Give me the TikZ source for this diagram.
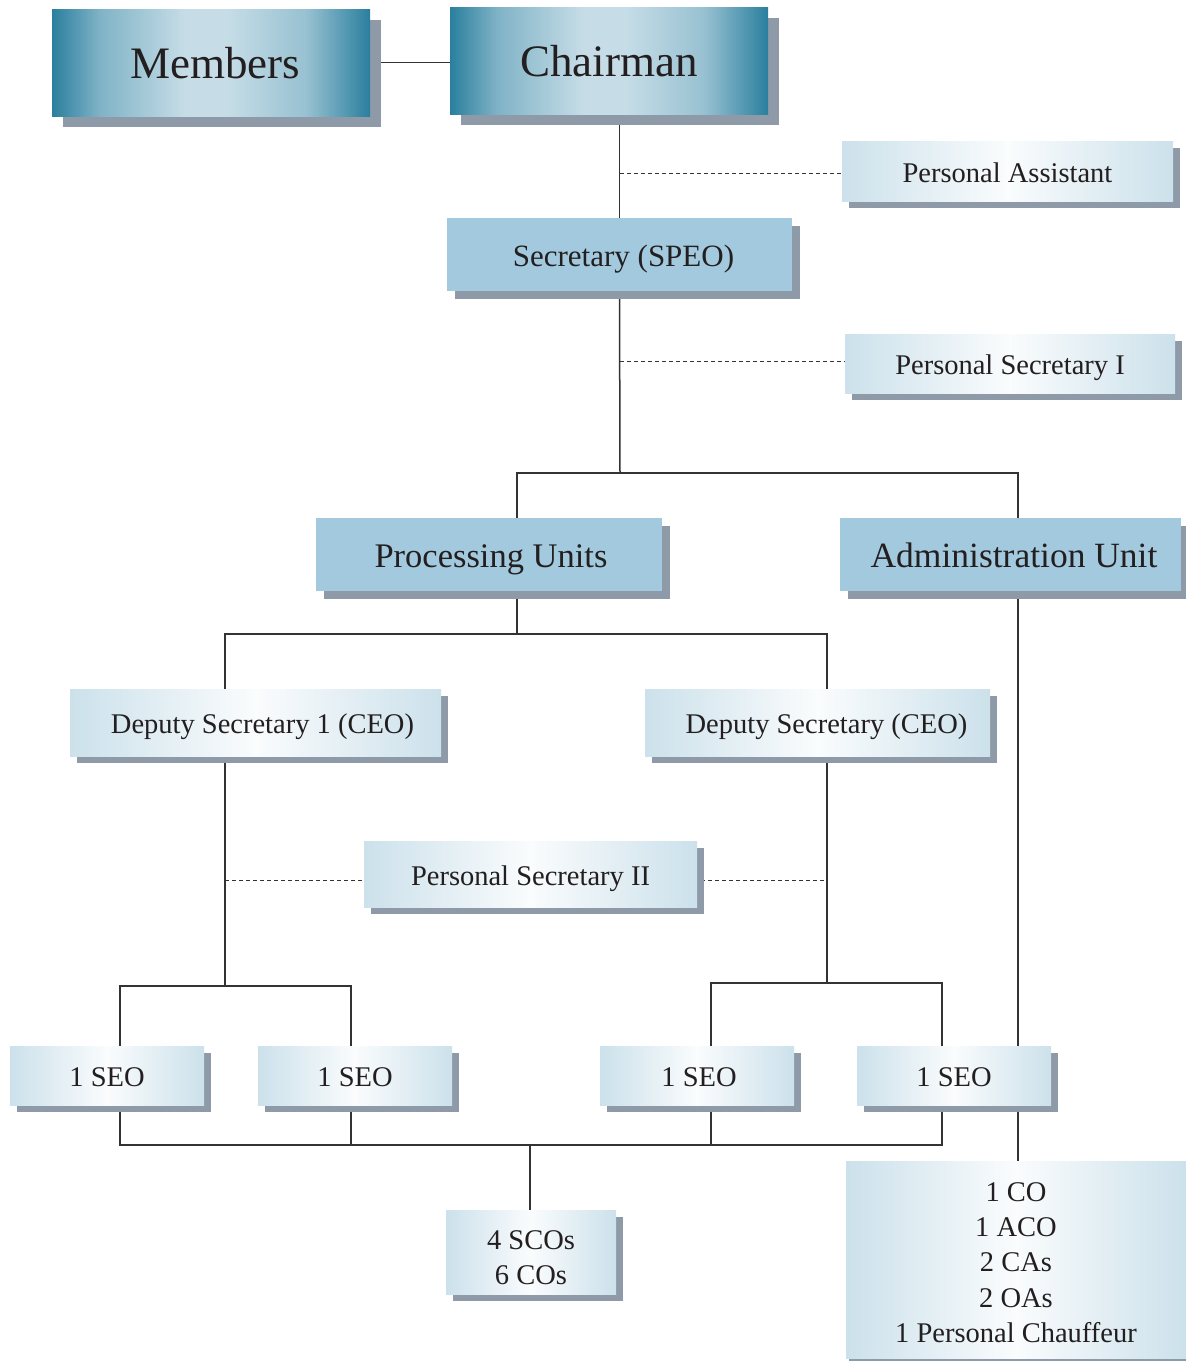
\documentclass[tikz,border=0pt]{standalone}
\usepackage{fontspec}
\setmainfont{Liberation Serif}
\usetikzlibrary{shadows}
\pgfdeclarelayer{bg}
\pgfsetlayers{bg,main}
\definecolor{tealD}{HTML}{2A7F9E}
\definecolor{tealL}{HTML}{C6DDE7}
\colorlet{tealA}{tealD!45!tealL}
\colorlet{tealB}{tealD!30!tealL}
\definecolor{flatC}{HTML}{A2C9DD}
\definecolor{liteE}{HTML}{CCE1EB}
\definecolor{liteM}{HTML}{FAFCFD}
\definecolor{shgray}{HTML}{8E9AA8}
\definecolor{txt}{HTML}{231F20}
\definecolor{lineC}{HTML}{333333}
\pgfdeclarehorizontalshading{tealshade}{100bp}{color(0bp)=(tealD); color(25bp)=(tealD);
  color(32.5bp)=(tealA); color(46bp)=(tealL); color(52.5bp)=(tealL);
  color(65bp)=(tealB); color(75bp)=(tealD); color(100bp)=(tealD)}
\tikzset{
  box/.style={inner sep=0pt, text=txt, draw=none, align=center},
  shad/.style={drop shadow={opacity=1, fill=shgray, shadow xshift=#1pt, shadow yshift=-#1pt}},
  tealbox/.style={box, shading=tealshade,
    minimum width=318pt, minimum height=107pt, font=\fontsize{45}{50}\selectfont,
    text height=31pt, text depth=0pt, shad=11},
  flatbox/.style={box, fill=flatC, minimum height=73pt, shad=8},
  litebox/.style={box, left color=liteE, right color=liteE, middle color=liteM,
    font=\fontsize{28.5}{35.25}\selectfont},
  onetext/.style={text height=22pt, text depth=0pt},
  seobox/.style={litebox, onetext, minimum width=194pt, minimum height=59pt, shad=7},
  multitext/.style={font=\fontsize{28.5}{35.25}\selectfont, text=txt, align=center, inner sep=0pt},
  conn/.style={draw=lineC, line width=1.5pt},
  dashconn/.style={draw=lineC, line width=1pt, dash pattern=on 4pt off 3pt},
}
\begin{document}
\begin{tikzpicture}[x=1pt, y=-1pt]
\useasboundingbox (0,0) rectangle (1186,1361);
\clip (0,0) rectangle (1186,1361);

\node[tealbox] (members) at (211,62.5) {\hspace*{8pt}Members};
\node[tealbox] (chair) at (609,60.5) {Chairman};
\node[litebox, onetext, shad=7, minimum width=331pt, minimum height=60pt] (pa) at (1007.5,171) {Personal Assistant};
\node[flatbox, minimum width=345pt, font=\fontsize{31}{36}\selectfont, text height=23pt, text depth=0pt] (sec) at (619.5,254.5) {\hspace*{8pt}Secretary (SPEO)};
\node[litebox, onetext, shad=7, minimum width=330pt, minimum height=59pt] (ps1) at (1010,363.5) {Personal Secretary I};
\node[flatbox, minimum width=346pt, font=\fontsize{34.5}{40}\selectfont, text height=26pt, text depth=0pt] (proc) at (489,554.5) {\hspace*{4pt}Processing Units};
\node[flatbox, minimum width=341pt, font=\fontsize{35.5}{40}\selectfont, text height=26pt, text depth=0pt] (admin) at (1010.5,554.5) {\hspace*{7pt}Administration Unit};
\node[litebox, onetext, shad=7, minimum width=371pt, minimum height=67pt] (dep1) at (255.5,722.5) {\hspace*{14pt}Deputy Secretary 1 (CEO)};
\node[litebox, onetext, shad=7, minimum width=345pt, minimum height=67pt] (dep2) at (817.5,722.5) {\hspace*{18pt}Deputy Secretary (CEO)};
\node[litebox, onetext, shad=7, minimum width=333pt, minimum height=66pt] (ps2) at (530.5,874) {Personal Secretary II};
\node[seobox] (seo1) at (107,1075.5) {1 SEO};
\node[seobox] (seo2) at (355,1075.5) {1 SEO};
\node[seobox] (seo3) at (697,1075.5) {\hspace*{4pt}1 SEO};
\node[seobox] (seo4) at (954,1075.5) {1 SEO};
\node[litebox, shad=7, minimum width=170pt, minimum height=84pt,
  label={[multitext, yshift=-6pt]center:{4 SCOs\\6 COs}}] (sco) at (531,1252) {};
\node[litebox, shad=3, minimum width=340pt, minimum height=197pt,
  label={[multitext, yshift=-3pt]center:{1 CO\\1 ACO\\2 CAs\\2 OAs\\1 Personal Chauffeur}}] (co) at (1016,1259.5) {};

\coordinate (j1) at (620,473);
\coordinate (jp) at (517,473);
\coordinate (ja) at (1018,473);
\coordinate (jd) at (517,634);
\coordinate (jd1) at (225,634);
\coordinate (jd2) at (827,634);
\coordinate (k1) at (225,986);
\coordinate (k1a) at (120,986);
\coordinate (k1b) at (351,986);
\coordinate (k2) at (827,983);
\coordinate (k2a) at (711,983);
\coordinate (k2b) at (942,983);
\coordinate (m) at (530,1145);
\coordinate (d1) at (620,173);
\coordinate (d2) at (620,361);
\coordinate (d3) at (225,880);
\coordinate (d4) at (827,880);

\begin{pgfonlayer}{bg}
\draw[conn] (members.east) -- (members.east -| chair.west);
\draw[conn] (chair.south -| sec.north) -- (sec.north);
\draw[conn] (sec.south) -- (j1);
\draw[conn] (jp |- proc.north) -- (jp) -- (ja) -- (ja |- admin.north);
\draw[conn] (jp |- proc.south) -- (jd);
\draw[conn] (jd1 |- dep1.north) -- (jd1) -- (jd2) -- (jd2 |- dep2.north);
\draw[conn] (jd1 |- dep1.south) -- (k1);
\draw[conn] (k1a |- seo1.north) -- (k1a) -- (k1b) -- (k1b |- seo2.north);
\draw[conn] (jd2 |- dep2.south) -- (k2);
\draw[conn] (k2a |- seo3.north) -- (k2a) -- (k2b) -- (k2b |- seo4.north);
\draw[conn] (k1a |- seo1.south) -- (k1a |- m) -- (k2b |- m) -- (k2b |- seo4.south);
\draw[conn] (k1b |- seo2.south) -- (k1b |- m);
\draw[conn] (k2a |- seo3.south) -- (k2a |- m);
\draw[conn] (m) -- (m |- sco.north);
\draw[conn] (ja |- admin.south) -- (ja |- co.north);
\draw[dashconn] (d1) -- (d1 -| pa.west);
\draw[dashconn] (d2) -- (d2 -| ps1.west);
\draw[dashconn] (d3) -- (d4);
\end{pgfonlayer}
\end{tikzpicture}
\end{document}
